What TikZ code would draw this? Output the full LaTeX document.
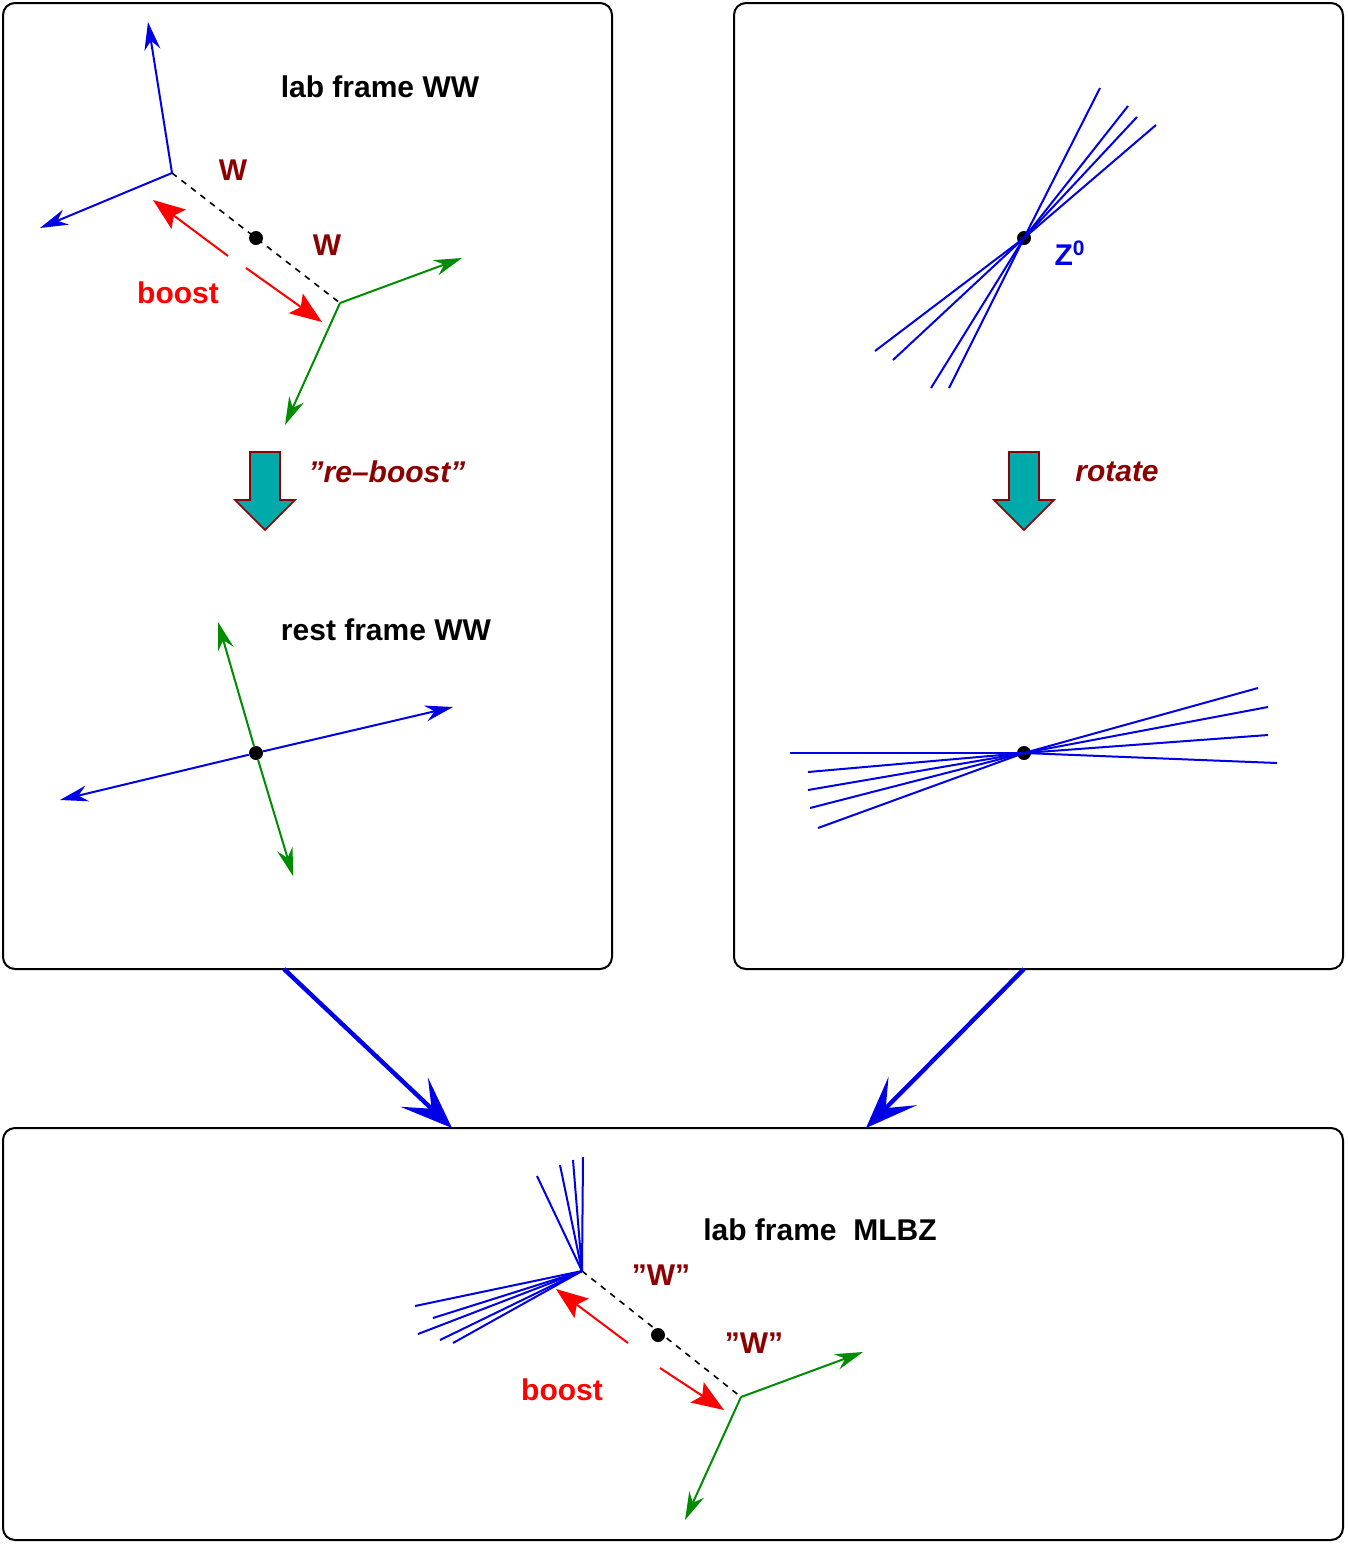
\documentclass[tikz,border=0pt]{standalone}
\usepackage{fontspec}
\setmainfont{Liberation Sans}
\usetikzlibrary{arrows.meta}
\definecolor{wred}{RGB}{140,0,0}
\definecolor{jblue}{RGB}{0,0,230}
\definecolor{jgreen}{RGB}{0,140,0}
\definecolor{teal2}{RGB}{0,170,170}
\newcommand{\dq}{\symbol{34}}
\begin{document}
\begin{tikzpicture}[x=0.5pt,y=-0.5pt]
\tikzset{panel/.style={draw,line width=1pt,rounded corners=6},
  lbl/.style={font=\fontsize{15}{18}\selectfont\bfseries},
  wlbl/.style={lbl,text=wred},
  bluearr/.style={jblue,line width=1pt,-{Stealth[length=14,width=8]}},
  greenarr/.style={jgreen,line width=1pt,-{Stealth[length=14,width=8]}},
  boostarr/.style={red,line width=1pt,-{Stealth[length=16,width=12,inset=3pt]}},
  jet/.style={jblue,line width=1pt},
  dotn/.style={circle,fill=black,inner sep=0,minimum size=7},
  bigarr/.style={jblue,line width=2.2pt,-{Stealth[length=26,width=20,inset=12]}}}
\useasboundingbox (0,0) rectangle (1348,1544);
% panels
\draw[panel] (3,3) rectangle (612,969);
\draw[panel] (734,3) rectangle (1343,969);
\draw[panel] (3,1128) rectangle (1343,1540);
\coordinate (pl) at (284,969);
\coordinate (pr) at (1024,969);
\coordinate (ql) at (452,1128);
\coordinate (qr) at (866,1128);
\draw[bigarr] (pl) -- (ql);
\draw[bigarr] (pr) -- (qr);
% lab frame WW
\node[lbl] (tlab) at (380,87) {lab frame WW};
\coordinate (a1) at (172,173);
\coordinate (b1) at (340,303);
\node[dotn] (c1) at (256,238) {};
\draw[dashed,line width=0.8pt] (a1) -- (b1);
\draw[bluearr] (a1) -- (148,22);
\draw[bluearr] (a1) -- (40,228);
\draw[greenarr] (b1) -- (462,258);
\draw[greenarr] (b1) -- (285,425);
\draw[boostarr] (228,256) -- (153,200);
\draw[boostarr] (246,268) -- (322,322);
\node[wlbl] (w1) at (233,170) {W};
\node[wlbl] (w2) at (327,245) {W};
\node[lbl,text=red] (bst1) at (178,293) {boost};
% re-boost
\draw[wred,fill=teal2,line width=0.8pt] (250,452) -- (280,452) -- (280,500) -- (295,500) -- (265,530) -- (235,500) -- (250,500) -- cycle;
\node[wlbl,font=\fontsize{15}{18}\selectfont\bfseries\itshape] (rb) at (387,472) {\dq re--boost\dq};
% rest frame
\node[lbl] (trest) at (386,630) {rest frame WW};
\node[dotn] (c2) at (256,753) {};
\draw[bluearr] (c2) -- (453,707);
\draw[bluearr] (c2) -- (60,800);
\draw[greenarr] (c2) -- (218,622);
\draw[greenarr] (c2) -- (293,876);
% Z0
\node[dotn] (z1) at (1024,238) {};
\foreach \p in {(1100,88),(1128,106),(1137,117),(1156,125),(875,351),(893,360),(931,388),(949,388)}
  \draw[jet] (z1.center) -- \p;
\node[lbl,text=jblue] (zl) at (1070,253) {Z$^{\mathbf 0}$};
% rotate
\draw[wred,fill=teal2,line width=0.8pt] (1009,452) -- (1039,452) -- (1039,500) -- (1054,500) -- (1024,530) -- (994,500) -- (1009,500) -- cycle;
\node[wlbl,font=\fontsize{15}{18}\selectfont\bfseries\itshape] (rot) at (1117,472) {rotate};
\node[dotn] (z2) at (1024,753) {};
\foreach \p in {(790,753),(808,772),(808,790),(810,808),(818,828),(1258,688),(1268,707),(1268,735),(1277,763)}
  \draw[jet] (z2.center) -- \p;
% lab frame MLBZ
\node[lbl] (tmlbz) at (820,1230) {lab frame~~MLBZ};
\coordinate (a3) at (582,1271);
\coordinate (b3) at (741,1397);
\node[dotn] (c3) at (658,1335) {};
\draw[dashed,line width=0.8pt] (a3) -- (b3);
\foreach \p in {(537,1176),(560,1165),(573,1160),(583,1157),(415,1306),(418,1334),(433,1318),(440,1340),(453,1343)}
  \draw[jet] (a3) -- \p;
\draw[greenarr] (b3) -- (863,1352);
\draw[greenarr] (b3) -- (685,1520);
\draw[boostarr] (628,1343) -- (556,1289);
\draw[boostarr] (660,1368) -- (724,1410);
\node[wlbl] (w3) at (661,1275) {\dq W\dq};
\node[wlbl] (w4) at (754,1343) {\dq W\dq};
\node[lbl,text=red] (bst3) at (562,1390) {boost};
\end{tikzpicture}
\end{document}
